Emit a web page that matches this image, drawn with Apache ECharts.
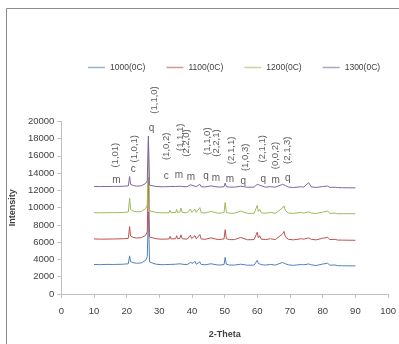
<!DOCTYPE html>
<html>
<head>
<meta charset="utf-8">
<script src="https://cdn.jsdelivr.net/npm/echarts@6/dist/echarts.min.js"></script>
<style>
  html, body { margin: 0; padding: 0; background: #fff; }
  #chart { width: 399px; height: 344px; }
</style>
</head>
<body>
<div id="chart"></div>
<script>
// 2-theta positions shared by all four patterns
const theta = [10, 12, 14, 16, 16.5, 17, 19, 20.5, 20.9, 21.2, 21.6, 22, 23, 24.5, 25.8, 26.3, 26.65, 27, 27.5, 29,
  30.5, 31, 31.5, 33, 33.3, 33.6, 35, 35.3, 35.6, 36.3, 36.6, 37, 38.5, 39.5, 39.9, 40.3, 40.9, 41.3, 42.4, 42.8,
  44, 45.8, 46.3, 48, 49.8, 50.15, 50.5, 51.5, 53, 54.9, 55.5, 57, 59, 59.95, 60.3, 60.7, 61.2, 62.5, 64, 64.5,
  65.5, 67.7, 68.15, 68.6, 69.5, 71, 73.5, 74.2, 75.7, 76.5, 78, 79.9, 80.4, 81.5, 82.2, 83.8, 84.5, 86, 88, 90]

const int1000 = [3420, 3400, 3430, 3420, 3580, 3430, 3450, 3500, 4420, 3750, 3950, 3620, 3560, 3600, 3900, 4300, 9500, 3700, 3550, 3450,
  3400, 3480, 3400, 3420, 3620, 3420, 3450, 3680, 3450, 3500, 3680, 3450, 3400, 3650, 3450, 3550, 3800, 3450, 3720, 3420,
  3380, 3500, 3380, 3350, 3400, 4250, 3450, 3350, 3350, 3450, 3380, 3330, 3350, 3900, 3550, 3720, 3400, 3350, 3420, 3480,
  3350, 3650, 3800, 3500, 3380, 3320, 3420, 3380, 3480, 3380, 3300, 3460, 3350, 3560, 3330, 3360, 3280, 3270, 3260, 3250]

const int1100 = [6380, 6350, 6360, 6370, 6560, 6380, 6400, 6450, 7800, 6700, 6850, 6550, 6480, 6520, 6800, 7200, 13500, 6600, 6480, 6400,
  6350, 6420, 6350, 6380, 6680, 6380, 6400, 6750, 6400, 6450, 6850, 6400, 6350, 6800, 6420, 6550, 6750, 6400, 6880, 6380,
  6330, 6500, 6330, 6300, 6380, 7450, 6400, 6300, 6300, 6550, 6350, 6280, 6300, 7150, 6500, 6750, 6350, 6300, 6400, 6450,
  6300, 6950, 7250, 6600, 6330, 6270, 6400, 6350, 6500, 6330, 6270, 6450, 6300, 6560, 6300, 6330, 6250, 6240, 6230, 6220]

const int1200 = [9420, 9400, 9410, 9420, 9600, 9420, 9440, 9500, 11100, 9800, 9950, 9600, 9520, 9560, 9900, 10300, 17800, 9650, 9520, 9440,
  9400, 9480, 9400, 9420, 9700, 9420, 9440, 9800, 9440, 9480, 9950, 9450, 9400, 9850, 9450, 9600, 9800, 9440, 10000, 9420,
  9380, 9560, 9380, 9350, 9420, 10600, 9450, 9350, 9350, 9600, 9400, 9330, 9350, 10250, 9560, 9800, 9400, 9350, 9450, 9500,
  9350, 9950, 10200, 9650, 9380, 9330, 9450, 9380, 9520, 9380, 9320, 9480, 9340, 9600, 9340, 9360, 9300, 9300, 9300, 9290]

const int1300 = [12460, 12440, 12450, 12460, 12600, 12460, 12480, 12520, 13600, 12700, 12800, 12560, 12500, 12530, 12800, 13100, 18300, 12600, 12500, 12450,
  12420, 12480, 12420, 12440, 12600, 12440, 12450, 12650, 12450, 12480, 12700, 12450, 12420, 12650, 12440, 12550, 12680, 12440, 12700, 12420,
  12400, 12520, 12400, 12380, 12420, 12850, 12430, 12380, 12380, 12480, 12400, 12360, 12380, 12700, 12480, 12600, 12400, 12370, 12430, 12460,
  12370, 12700, 12820, 12550, 12380, 12340, 12420, 12380, 12900, 12400, 12340, 12450, 12360, 12500, 12350, 12360, 12320, 12310, 12300, 12290]

const seriesNames = ['1000(0C)', '1100(0C)', '1200(0C)', '1300(0C)']

// phase letters above the top pattern
const phaseText = ['m', 'c', 'q', 'c', 'm', 'm', 'q', 'm', 'm', 'q', 'q', 'm', 'q']
const phaseX    = [16.9, 22.0, 27.6, 32.1, 36.0, 39.7, 44.3, 47.3, 51.6, 55.7, 61.8, 65.6, 69.3]
const phaseY    = [13190, 14490, 19220, 13680, 13750, 13490, 13600, 13380, 13240, 13050, 13300, 13130, 13410]

// Miller indices (vertical text)
const hklText = ['(1,01)', '(1,0,1)', '(1,1,0)', '(1,0,2)', '(1,1,1)', '(2,2,0)', '(1,1,0)', '(2,2,1)', '(2,1,1)', '(1,0,3)', '(2,1,1)', '(0,0,2)', '(2,1,3)']
const hklX    = [16.4, 22.4, 28.4, 32.1, 36.5, 38.4, 44.6, 47.6, 51.9, 56.4, 61.5, 65.6, 69.1]
const hklY    = [16080, 16820, 22470, 17100, 18150, 17480, 17700, 17480, 16630, 15820, 16820, 16040, 16650]

const xTicks = { min: 0, max: 100, interval: 10 }
const yTicks = { min: 0, max: 20000, interval: 2000 }

const COLORS = ['#4F81BD', '#C0504D', '#9BBB59', '#8064A2']
const FONT = '"Liberation Sans", Arial, sans-serif'
const AXIS = '#bfbfbf'
const TEXT = '#404040'

const chart = echarts.init(document.getElementById('chart'), null, { renderer: 'canvas' })

const lines = [int1000, int1100, int1200, int1300].map((vals, i) => ({
  name: seriesNames[i],
  type: 'line',
  data: theta.map((t, j) => [t, vals[j]]),
  symbol: 'none',
  lineStyle: { color: COLORS[i], width: 1 },
  itemStyle: { color: COLORS[i] },
  z: 2 + i,
}))

chart.setOption({
  animation: false,
  textStyle: { fontFamily: FONT },
  graphic: [{
    type: 'rect',
    shape: { x: 6.5, y: 8.5, width: 500, height: 500 },
    style: { fill: 'none', stroke: '#8c8c8c', lineWidth: 1 },
    silent: true,
  }],
  legend: {
    left: 83,
    top: 58,
    icon: 'rect',
    itemWidth: 17,
    itemHeight: 1.5,
    itemGap: 21,
    textStyle: { color: TEXT, fontSize: 8.5, fontFamily: FONT },
    data: seriesNames.map((n, i) => ({ name: n, itemStyle: { color: COLORS[i], opacity: 0.6 } })),
  },
  grid: { left: 61, right: 9, top: 121.3, bottom: 42.3 },
  xAxis: {
    type: 'value',
    ...xTicks,
    name: '2-Theta',
    nameLocation: 'middle',
    nameGap: 36,
    nameTextStyle: { color: TEXT, fontSize: 9, fontWeight: 'bold', fontFamily: FONT },
    axisLine:  { lineStyle: { color: AXIS } },
    axisTick:  { show: true, length: 4, lineStyle: { color: AXIS } },
    axisLabel: { color: TEXT, fontSize: 9.5, margin: 12 },
    splitLine: { show: false },
  },
  yAxis: {
    type: 'value',
    ...yTicks,
    name: 'Intensity',
    nameLocation: 'middle',
    nameGap: 41,
    nameTextStyle: { color: TEXT, fontSize: 9, fontWeight: 'bold', fontFamily: FONT },
    axisLine:  { show: true, lineStyle: { color: AXIS } },
    axisTick:  { show: true, length: 4, lineStyle: { color: AXIS } },
    axisLabel: { color: TEXT, fontSize: 9.5, margin: 7, formatter: v => String(v) },
    splitLine: { show: false },
  },
  series: [
    ...lines,
    {
      type: 'scatter',
      data: phaseX.map((x, i) => [x, phaseY[i], phaseText[i]]),
      symbolSize: 0,
      clip: false,
      silent: true,
      z: 10,
      label: {
        show: true,
        position: 'inside',
        color: '#333',
        fontSize: 10,
        fontFamily: FONT,
        formatter: p => p.value[2],
      },
    },
    {
      type: 'scatter',
      data: hklX.map((x, i) => [x, hklY[i], hklText[i]]),
      symbolSize: 0,
      clip: false,
      silent: true,
      z: 10,
      label: {
        show: true,
        position: 'inside',
        rotate: 90,
        color: '#333',
        fontSize: 9.5,
        fontFamily: FONT,
        formatter: p => p.value[2],
      },
    },
  ],
})
</script>
</body>
</html>
